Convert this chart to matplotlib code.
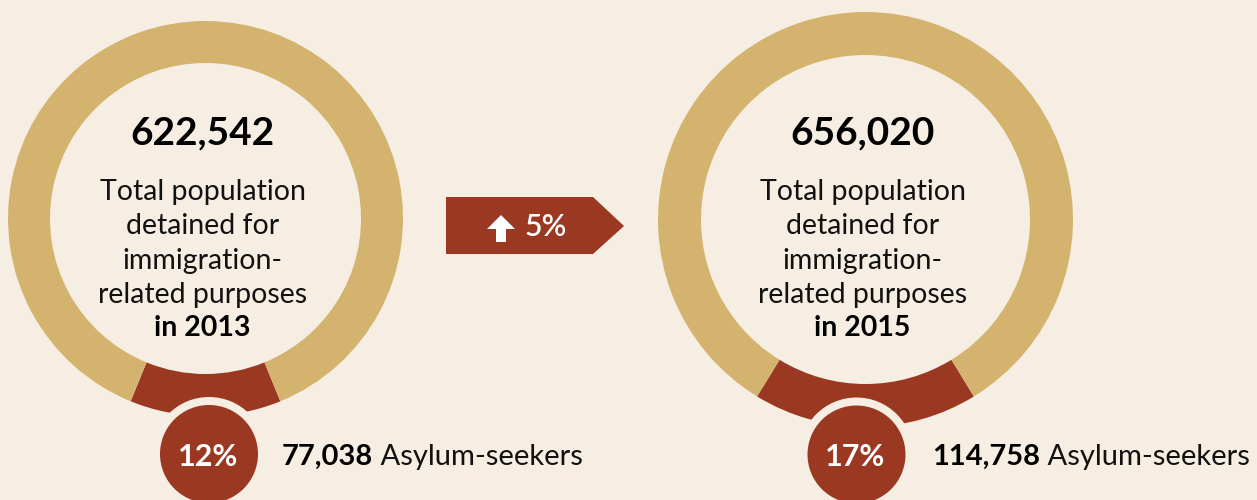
import numpy as np
import matplotlib.pyplot as plt
from matplotlib.patches import Circle, Polygon

# data
years = ['2013', '2015']
totals = [622542, 656020]
asylum = [77038, 114758]
shares = ['12%', '17%']
change = '5%'

BG = '#F6EEE2'
GOLD = '#D4B36F'
RED = '#9A3822'

W, H = 1257, 500
fig = plt.figure(figsize=(W / 100, H / 100), dpi=100, facecolor=BG)
ax = fig.add_axes([0, 0, 1, 1])
ax.set_facecolor(BG)

# layout in pixels (image y measured from top)
centers = [(205.5, 218.5), (865.5, 219.5)]
radii = [197.5, 207.5]
ring_w = [42, 43]
badges = [(209, 454), (856.5, 454.5)]
label_x = [282, 932]

for i in range(2):
    cx, cy = centers[i]
    y0 = H - cy
    frac = asylum[i] / totals[i]
    ax.pie([asylum[i], totals[i] - asylum[i]], colors=[RED, GOLD],
           center=(cx, y0), radius=radii[i], startangle=270 - frac * 180,
           counterclock=True, wedgeprops=dict(width=ring_w[i], linewidth=0),
           frame=True)

    ax.text(cx - 3, H - 133, f'{totals[i]:,}', ha='center', va='center',
            fontsize=28, fontweight='bold', family='Lato', color='#000000')
    body = ['Total population', 'detained for', 'immigration-', 'related purposes']
    for k, line in enumerate(body):
        ax.text(cx - 3, H - (192 + 34.5 * k), line, ha='center', va='center',
                fontsize=20.5, family='Lato', color='#111111')
    ax.text(cx - 3, H - 328, f'in {years[i]}', ha='center', va='center',
            fontsize=20.5, fontweight='bold', family='Lato', color='#000000')

    bx, by = badges[i]
    ax.add_patch(Circle((bx, H - by), 57, color=BG, lw=0, zorder=5))
    ax.add_patch(Circle((bx, H - by), 49, color=RED, lw=0, zorder=6))
    ax.text(bx - 1, H - by - 3, shares[i], ha='center', va='center', fontsize=22,
            fontweight='bold', family='Lato', color='white', zorder=7)

    t = ax.text(label_x[i], H - 457, f'{asylum[i]:,}', ha='left', va='center',
                fontsize=21, fontweight='bold', family='Lato', color='#000000')
    ax.annotate(' Asylum-seekers', xycoords=t, xy=(1, 0.5), ha='left', va='center',
                fontsize=21, family='Lato', color='#111111')

# change banner
banner = Polygon([(446, H - 197), (593, H - 197), (624, H - 226),
                  (593, H - 254), (446, H - 254)], closed=True, color=RED, lw=0)
ax.add_patch(banner)
# up arrow
ax.add_patch(Polygon([(501, H - 215), (515, H - 229), (506, H - 229),
                      (506, H - 242), (496, H - 242), (496, H - 229),
                      (487, H - 229)], closed=True, color='white', lw=0))
ax.text(546, H - 227, change, ha='center', va='center', fontsize=22,
        fontweight='semibold', family='Lato', color='white')

ax.set_xlim(0, W)
ax.set_ylim(0, H)
ax.set_aspect('auto')
ax.axis('off')

fig.savefig('out.png', dpi=100, facecolor=BG)
